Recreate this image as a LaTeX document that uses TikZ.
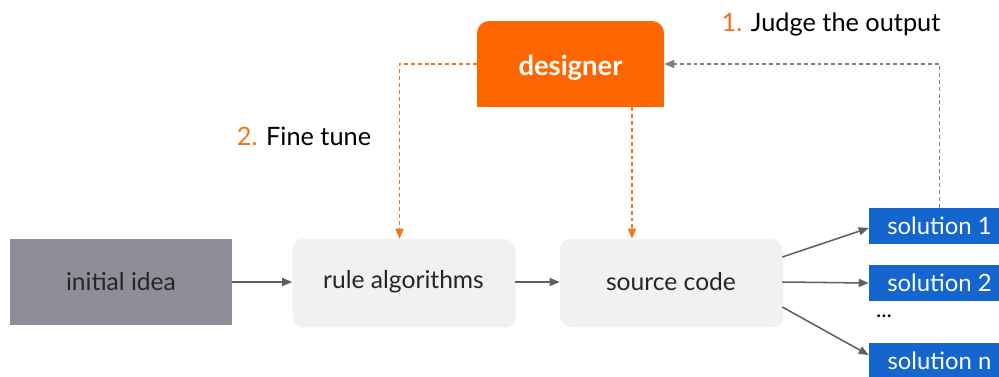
\documentclass[tikz,border=0pt]{standalone}
\usepackage{fontspec}
\setmainfont{Lato}
\usetikzlibrary{arrows.meta, shadows}
\definecolor{idea-gray}{HTML}{8E8E98}
\definecolor{step-bg}{HTML}{F1F1F1}
\definecolor{design-orange}{HTML}{FF6600}
\definecolor{label-orange}{HTML}{F07320}
\definecolor{sol-blue}{HTML}{1565CF}
\definecolor{line-gray}{HTML}{606060}

\tikzset{
  box/.style={minimum width=5.55cm, minimum height=2.15cm, align=center,
    font=\fontsize{17.5}{20}\selectfont, text=black!85},
  stepbox/.style={box, fill=step-bg, rounded corners=0.25cm,
    drop shadow={opacity=0.12, shadow xshift=0.03cm, shadow yshift=-0.06cm}},
  solbox/.style={fill=sol-blue, text=white, minimum width=3.525cm, minimum height=0.9cm,
    inner sep=0pt, font=\fontsize{17}{19}\selectfont},
  flow/.style={draw=line-gray, line width=1.1pt, -{Triangle[length=0.25cm, width=0.2cm]}},
  tune/.style={draw=label-orange, line width=1pt, dash pattern=on 2.8pt off 2.1pt,
    -{Triangle[length=0.25cm, width=0.2cm]}},
  judge/.style={draw=line-gray!80, line width=1pt, dash pattern=on 2.8pt off 2.1pt,
    -{Triangle[length=0.25cm, width=0.2cm]}},
}

\begin{document}
\begin{tikzpicture}
    \useasboundingbox (0,0) rectangle (24.975,-9.4);
    \clip (0,0) rectangle (24.975,-9.4);
    % main chain
    \node[box, fill=idea-gray] (idea) at (3.025,-7.05) {initial idea};
    \node[stepbox] (rule) at (10.0875,-7.05) {rule algorithms};
    \node[stepbox] (src) at (16.775,-7.05) {source code};
    % designer, rounded on top only
    \node[fill=design-orange, rounded corners=0.3cm, minimum width=4.675cm,
          minimum height=2.15cm, text height=0.6cm, text depth=0.05cm,
          text=white, font=\fontsize{19.5}{22}\selectfont\bfseries] (dsg) at (14.2625,-1.6) {designer};
    \fill[design-orange] ([yshift=0.4cm]dsg.south west) rectangle (dsg.south east);
    % outputs
    \node[solbox] (sol1) at (23.4875,-5.65) {solution 1};
    \node[solbox] (sol2) at (23.4875,-7.075) {solution 2};
    \node[solbox] (soln) at (23.4875,-9.025) {solution n};
    \node[font=\fontsize{16}{18}\selectfont] (dots) at (22.1,-7.9) {...};
    % labels
    \node[font=\fontsize{18}{20}\selectfont] (lbljudge) at (20.775,-0.6) {\textcolor{label-orange}{1.} Judge the output};
    \node[font=\fontsize{18}{20}\selectfont] (lbltune) at (7.6,-3.4) {\textcolor{label-orange}{2.} Fine tune};
    % arrows
    \draw[flow] (idea) -- (rule);
    \draw[flow] (rule) -- (src);
    \draw[flow] ([yshift=0.625cm]src.east) -- ([yshift=-0.05cm]sol1.west);
    \draw[flow] (src.east) -- (sol2.west);
    \draw[flow] ([yshift=-0.625cm]src.east) -- ([yshift=0.15cm]soln.west);
    \draw[judge] (sol1.north) |- (dsg.east);
    \draw[tune] (dsg.west) -| ([xshift=-0.1cm]rule.north);
    \coordinate (srctop) at ([xshift=-0.975cm]src.north);
    \draw[tune] (dsg.south -| srctop) -- (srctop);
\end{tikzpicture}
\end{document}
